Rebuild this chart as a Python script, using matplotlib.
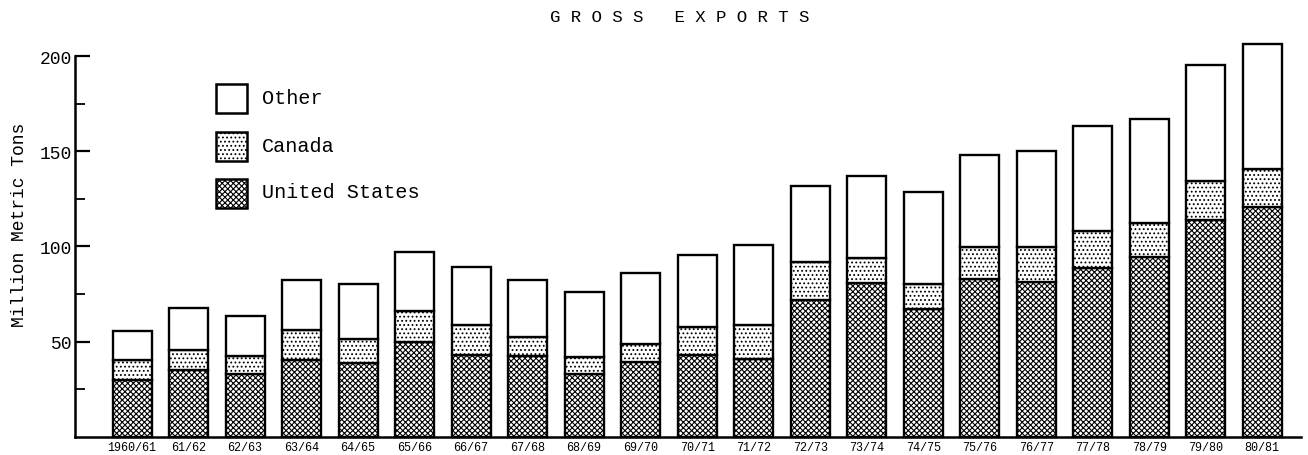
import numpy as np
import matplotlib
matplotlib.use('Agg')
import matplotlib.pyplot as plt
from matplotlib.patches import Rectangle

plt.rcParams.update({
    'font.family': ['Liberation Mono', 'DejaVu Sans Mono'],
    'hatch.linewidth': 0.8,
    'hatch.color': 'black',
})

# marketing years
years = ['1960/61', '61/62', '62/63', '63/64', '64/65', '65/66', '66/67', '67/68',
         '68/69', '69/70', '70/71', '71/72', '72/73', '73/74', '74/75', '75/76',
         '76/77', '77/78', '78/79', '79/80', '80/81']
# cumulative tops (million metric tons)
us_top = [30.0, 35.1, 33.0, 40.5, 38.6, 49.7, 43.0, 42.6, 33.0, 39.2, 43.0, 40.9,
          71.8, 80.8, 67.1, 82.9, 81.6, 88.5, 94.6, 113.8, 120.8]
canada_top = [40.4, 45.6, 42.6, 56.1, 51.4, 65.9, 58.9, 52.3, 42.1, 48.8, 57.8, 58.7,
              91.6, 94.2, 80.2, 99.5, 99.5, 108.2, 112.2, 134.4, 140.5]
total = [55.7, 67.6, 63.3, 82.3, 80.2, 97.0, 89.0, 82.3, 76.2, 86.0, 95.4, 100.7,
         131.8, 137.0, 128.8, 147.9, 150.1, 163.2, 166.8, 195.1, 206.1]

us = np.array(us_top)
canada = np.array(canada_top) - us
other = np.array(total) - np.array(canada_top)
x = np.arange(len(years))

fig = plt.figure(figsize=(13.08, 4.56), dpi=100)
ax = fig.add_axes([0.0573, 0.0395, 0.937, 0.8355])

w = 0.69
kw = dict(width=w, edgecolor='black', linewidth=1.7, clip_on=False)
ax.bar(x, us, color='white', hatch='xxxxxx', **kw)
ax.bar(x, canada, bottom=us, color='white', hatch='....', **kw)
ax.bar(x, other, bottom=us + canada, color='white', **kw)

ax.set_xlim(-1.01, 20.68)
ax.set_ylim(0, 200)
ax.set_yticks([50, 100, 150, 200])
ax.set_yticks([25, 75, 125, 175], minor=True)
ax.tick_params(axis='y', which='major', direction='in', length=11, width=1.6,
               labelsize=13, pad=2)
ax.tick_params(axis='y', which='minor', direction='in', length=7, width=1.3)
ax.set_xticks(x)
ax.set_xticklabels(years, fontsize=8.5)
ax.tick_params(axis='x', length=0, pad=3)
for s in ['top', 'right']:
    ax.spines[s].set_visible(False)
ax.spines['left'].set_linewidth(1.8)
ax.spines['bottom'].set_linewidth(1.8)

fig.text(20 / 1308, 1 - 225 / 456, 'Million Metric Tons', rotation=90,
         ha='center', va='center', fontsize=13)

# legend drawn as boxes in figure pixels
labels = ['Other', 'Canada', 'United States']
hatches = ['', '....', 'xxxxxx']
box_y = [85, 133, 180]
for lab, h, yy in zip(labels, hatches, box_y):
    r = Rectangle((216 / 1308, 1 - (yy + 29) / 456), 31 / 1308, 29 / 456,
                  transform=fig.transFigure, facecolor='white', edgecolor='black',
                  linewidth=1.8, hatch=h)
    fig.patches.append(r)
    fig.text(262 / 1308, 1 - (yy + 13) / 456, lab, ha='left', va='center', fontsize=14.5)

fig.text(680 / 1308, 1 - 18 / 456, 'G R O S S   E X P O R T S', ha='center', va='center',
         fontsize=12.5)

fig.savefig('out.png', dpi=100)
